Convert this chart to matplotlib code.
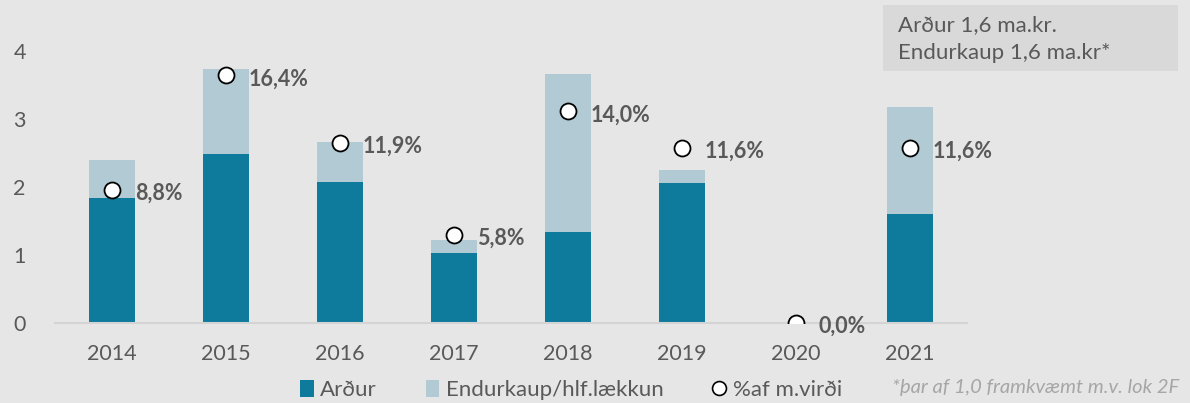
import matplotlib
matplotlib.use("Agg")
import matplotlib.pyplot as plt
from matplotlib.patches import Patch, Rectangle
from matplotlib.lines import Line2D

plt.rcParams['font.family'] = ['Lato', 'DejaVu Sans']

years = ["2014", "2015", "2016", "2017", "2018", "2019", "2020", "2021"]
ardur = [1.84, 2.49, 2.07, 1.03, 1.34, 2.06, 0.0, 1.60]
endurkaup = [0.56, 1.24, 0.59, 0.19, 2.32, 0.19, 0.0, 1.58]
pct = [8.8, 16.4, 11.9, 5.8, 14.0, 11.6, 0.0, 11.6]
pct_labels = ["8,8%", "16,4%", "11,9%", "5,8%", "14,0%", "11,6%", "0,0%", "11,6%"]

BG = "#e6e6e6"
DARK = "#0e7a9c"
LIGHT = "#b1cad3"
TXT = "#595959"

fig = plt.figure(figsize=(11.9, 4.03), dpi=100, facecolor=BG)
ax = fig.add_axes([55/1190, 80.3/403, 912/1190, 312.3/403])
ax.set_facecolor(BG)

x = list(range(len(years)))
ax.bar(x, ardur, width=0.4, color=DARK, label="Arður", zorder=2)
ax.bar(x, endurkaup, width=0.4, bottom=ardur, color=LIGHT, label="Endurkaup/hlf.lækkun", zorder=2)
ax.set_xlim(-0.5, 7.5)
ax.set_ylim(0, 4.6)
ax.set_yticks([0, 1, 2, 3, 4])
ax.set_xticks(x)
ax.set_xticklabels(years)
for s in ["top", "right", "left"]:
    ax.spines[s].set_visible(False)
ax.spines["bottom"].set_color("#d4d4d4")
ax.spines["bottom"].set_linewidth(1.5)
ax.tick_params(axis="both", length=0, labelsize=15.5, colors=TXT)
ax.tick_params(axis="y", pad=21)
ax.tick_params(axis="x", pad=15)

ax2 = ax.twinx()
ax2.set_ylim(0, 4.6 * 4.5)
ax2.axis("off")
ax2.plot(x, pct, linestyle="none", marker="o", markersize=11.5,
         markerfacecolor="white", markeredgecolor="black", markeredgewidth=1.3, zorder=5)
for xi, p, lab in zip(x, pct, pct_labels):
    ax2.annotate(lab, (xi, p), xytext=(16.5, -2.5), textcoords="offset points",
                 ha="left", va="center", fontsize=15.5, fontweight="bold", color=TXT)

handles = [Patch(facecolor=DARK, edgecolor="none"),
           Patch(facecolor=LIGHT, edgecolor="none"),
           Line2D([], [], linestyle="none", marker="o", markersize=10,
                  markerfacecolor="white", markeredgecolor="black", markeredgewidth=1.2)]
fig.legend(handles, ["Arður", "Endurkaup/hlf.lækkun", "%af m.virði"],
           loc="center", bbox_to_anchor=(571/1190, 1 - 390/403), ncol=3,
           frameon=False, fontsize=16, labelcolor=TXT, handlelength=0.6,
           handleheight=0.85, handletextpad=0.3, columnspacing=2.2,
           borderpad=0, borderaxespad=0)

fig.text(892/1190, 1 - 387/403, "*þar af 1,0 framkvæmt m.v. lok 2F",
         fontsize=14.5, style="italic", color="#a6a6a6", ha="left", va="center")

fig.patches.append(Rectangle((883/1190, 1 - 71/403), 295/1190, 66/403,
                             transform=fig.transFigure, facecolor="#d9d9d9",
                             edgecolor="none", zorder=0))
fig.text(898/1190, 1 - 25/403, "Arður 1,6 ma.kr.", fontsize=16, color=TXT,
         ha="left", va="center")
fig.text(898/1190, 1 - 53/403, "Endurkaup 1,6 ma.kr*", fontsize=16, color=TXT,
         ha="left", va="center")

fig.savefig("out.png", dpi=100, facecolor=BG)
